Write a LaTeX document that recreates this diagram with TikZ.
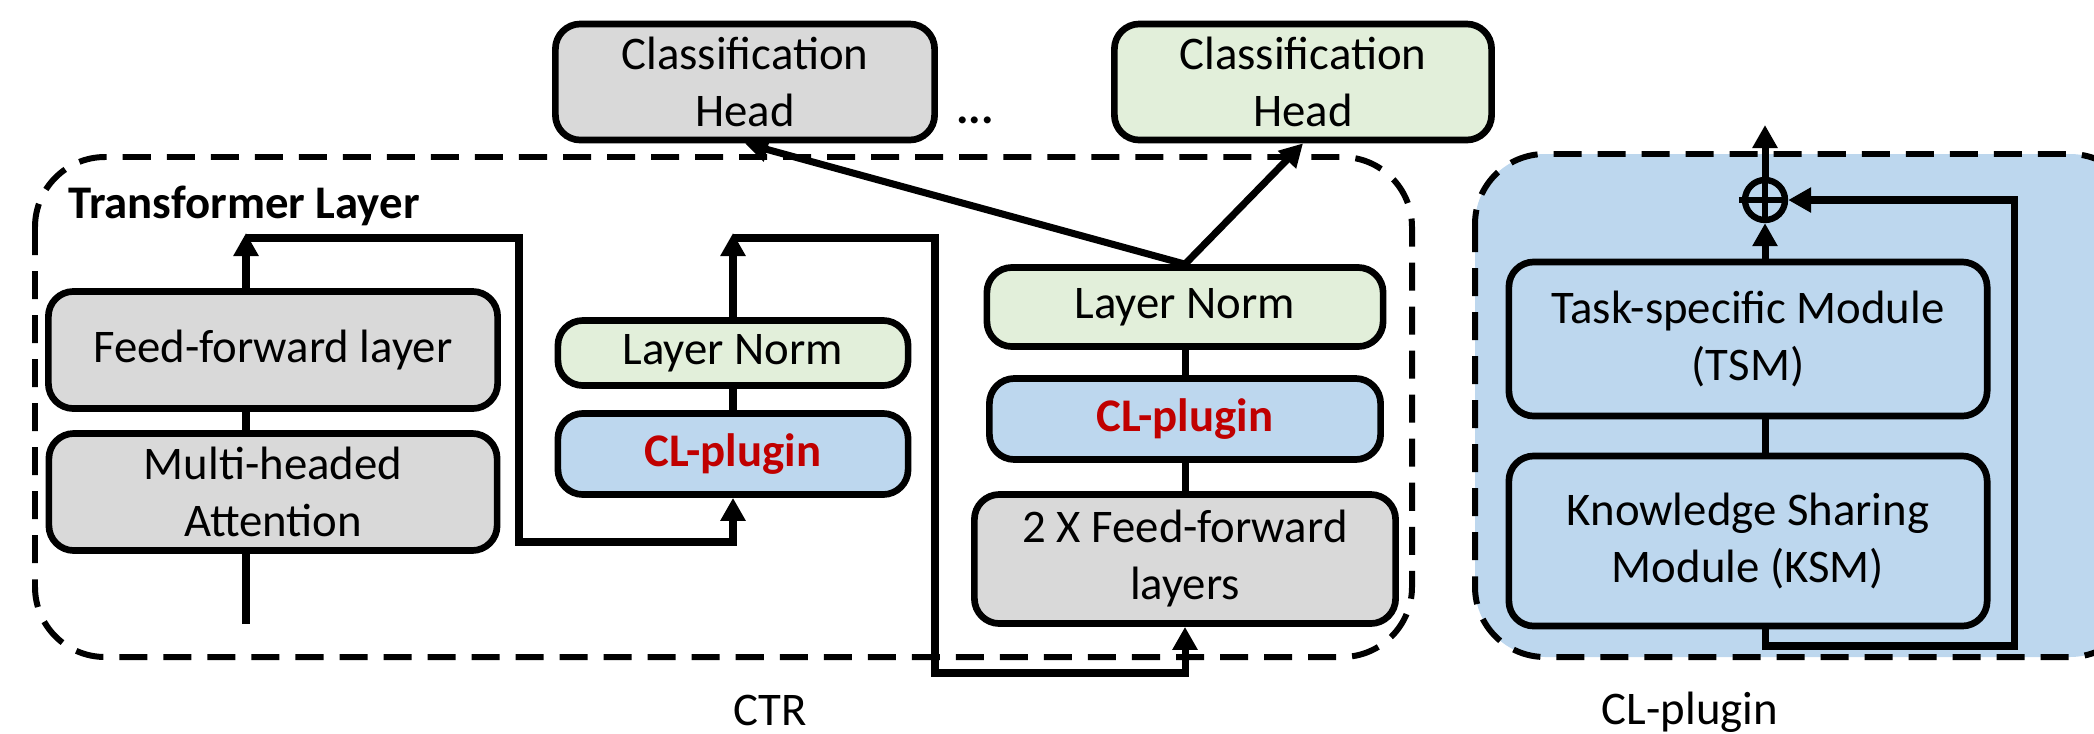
\documentclass[tikz,border=0pt]{standalone}
\usepackage{fontspec}
\setmainfont{Carlito}
\usetikzlibrary{arrows.meta}
\definecolor{boxgray}{HTML}{D9D9D9}
\definecolor{boxgreen}{HTML}{E2EFDA}
\definecolor{boxblue}{HTML}{BDD7EE}
\definecolor{plugred}{HTML}{C00000}

\begin{document}
\begin{tikzpicture}[x=0.01cm,y=-0.01cm,font=\fontsize{13.3}{16.2}\selectfont,
  blk/.style={draw,line width=1.9pt,rounded corners=0.25cm,align=center,inner sep=0pt},
  conn/.style={line width=2pt},
  arr/.style={line width=2pt,-{Triangle[length=0.23cm,width=0.24cm]}},
  region/.style={line width=1.7pt,dash pattern=on 0.28cm off 0.16cm,rounded corners=0.7cm}]
\useasboundingbox (0,0) rectangle (2094,733);
\draw[region,fill=boxblue] (1475,154) rectangle (2140,657);
\draw[region] (35,157) rectangle (1412,657);

\node[blk,fill=boxgray,minimum width=3.79cm,minimum height=1.16cm] (head1) at (745,82) {Classification\\Head};
\node[blk,fill=boxgreen,minimum width=3.77cm,minimum height=1.16cm] (head2) at (1303,82) {Classification\\Head};
\node[font=\fontsize{13.3}{16.2}\selectfont\bfseries] (dots) at (975,120) {...};
\node[anchor=west,font=\fontsize{13.3}{16.2}\selectfont\bfseries] (tl) at (56,206) {Transformer Layer};

\node[blk,fill=boxgray,minimum width=4.49cm,minimum height=1.17cm] (ff) at (273,350) {Feed-forward layer};
\node[blk,fill=boxgray,minimum width=4.48cm,minimum height=1.17cm] (mha) at (273,492) {Multi-headed\\Attention};
\node[blk,fill=boxgreen,minimum width=3.5cm,minimum height=0.65cm] (ln1) at (733,353) {Layer Norm};
\node[blk,fill=boxblue,minimum width=3.5cm,minimum height=0.81cm] (clp1) at (733,454) {\textcolor{plugred}{\textbf{CL-plugin}}};
\node[blk,fill=boxgreen,minimum width=3.96cm,minimum height=0.79cm] (ln2) at (1185,307) {Layer Norm};
\node[blk,fill=boxblue,minimum width=3.91cm,minimum height=0.81cm] (clp2) at (1185,419) {\textcolor{plugred}{\textbf{CL-plugin}}};
\node[blk,fill=boxgray,minimum width=4.21cm,minimum height=1.29cm] (ff2) at (1185,559) {2 X Feed-forward\\layers};

\node[blk,fill=boxblue,minimum width=4.78cm,minimum height=1.54cm] (tsm) at (1748,339) {Task-specific Module\\(TSM)};
\node[blk,fill=boxblue,minimum width=4.78cm,minimum height=1.70cm] (ksm) at (1748,541) {Knowledge Sharing\\Module (KSM)};
\node[draw,circle,line width=1.8pt,minimum size=0.40cm,inner sep=0pt] (op) at (1765,200) {};

\node[anchor=base] (ctr) at (770,725) {CTR};
\node[anchor=base] (cll) at (1690,724) {CL-plugin};

\coordinate (in) at (246,624);
\coordinate (t1) at (246,233);
\coordinate (s1) at (246,238);
\coordinate (r1) at (519,542);
\coordinate (t2) at (733,233);
\coordinate (s2) at (733,238);
\coordinate (r2) at (935,673);
\coordinate (out) at (1765,125);
\coordinate (lp) at (2014,646);

\draw[conn] (in) -- (mha.south -| in);
\draw[conn] (mha.north -| in) -- (ff.south -| in);
\draw[arr] (ff.north -| in) -- (t1);
\draw[arr] (s1) -| (r1) -| (clp1.south);
\draw[conn] (clp1.north) -- (ln1.south);
\draw[arr] (ln1.north) -- (t2);
\draw[arr] (s2) -| (r2) -| (ff2.south);
\draw[conn] (ff2.north) -- (clp2.south);
\draw[conn] (clp2.north) -- (ln2.south);
\draw[arr] (ln2.north) -- (head1.south);
\draw[arr] (ln2.north) -- (head2.south);

\draw[conn] (ksm.north -| op) -- (tsm.south -| op);
\draw[arr] (tsm.north -| op) -- (op.south);
\draw[arr] (op.north) -- (out);
\draw[line width=1.5pt] (op.north) -- (op.south) ([xshift=-0.03cm]op.west) -- (op.east);
\draw[arr] (ksm.south -| op) |- (lp) |- (op.east);
\end{tikzpicture}
\end{document}
